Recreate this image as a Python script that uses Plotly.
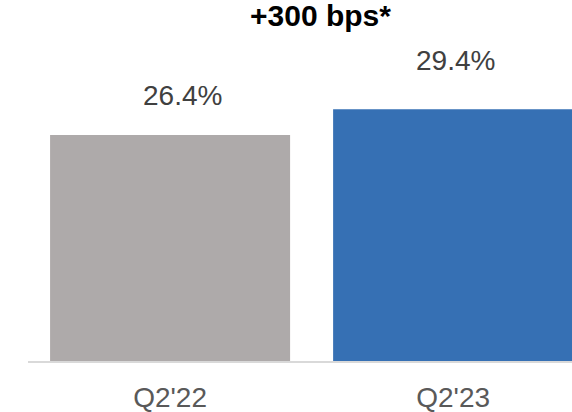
import plotly.graph_objects as go

categories = ["Q2'22", "Q2'23"]
values = [26.4, 29.4]
value_labels = ["26.4%", "29.4%"]
title_text = "+300 bps*"

bar_colors = ["#AEAAAA", "#3670B4"]
label_xshift = [12, 2]
label_yshift = [28, 37]

FONT = "Arial, Liberation Sans, sans-serif"

fig = go.Figure()
fig.add_trace(go.Bar(
    x=categories, y=values,
    marker=dict(color=bar_colors, line=dict(width=0)),
    hoverinfo="skip",
))

for c, v, t, xs, ys in zip(categories, values, value_labels, label_xshift, label_yshift):
    fig.add_annotation(
        x=c, y=v, text=t, showarrow=False,
        xref="x", yref="y", yanchor="bottom", xanchor="center",
        xshift=xs, yshift=ys - 6,
        font=dict(family=FONT, size=28, color="#404040"),
    )

fig.add_annotation(
    x=(320 - 28) / 544, y=(361 - 15) / 361, xref="paper", yref="paper",
    text="<b>" + title_text + "</b>",
    showarrow=False, xanchor="center", yanchor="middle",
    font=dict(family=FONT, size=30, color="#000000"),
)

fig.update_layout(
    width=572, height=412,
    margin=dict(l=28, r=0, t=0, b=51),
    paper_bgcolor="white", plot_bgcolor="white",
    bargap=0.152,
    showlegend=False,
    font=dict(family=FONT),
    xaxis=dict(
        type="category", range=[-0.502, 1.42], automargin=False,
        showline=True, linecolor="#D9D9D9", linewidth=2,
        showgrid=False, zeroline=False, ticks="",
        tickfont=dict(size=28, color="#595959"),
        ticklabelstandoff=10,
    ),
    yaxis=dict(
        range=[0, 361 / 8.565], showgrid=False, zeroline=False, automargin=False,
        showticklabels=False, showline=False, ticks="",
    ),
)

fig.write_html("out.html")
